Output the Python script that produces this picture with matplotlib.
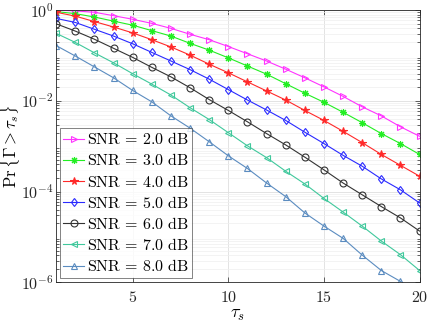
import numpy as np
import matplotlib
matplotlib.use("Agg")
import matplotlib.pyplot as plt
from matplotlib.ticker import LogLocator, NullFormatter, FixedLocator

plt.rcParams['mathtext.fontset'] = 'cm'
plt.rcParams['font.family'] = ['DejaVu Serif']

tau = list(range(1, 21))
snr_labels = ["2.0", "3.0", "4.0", "5.0", "6.0", "7.0", "8.0"]

# log10 of Pr{Gamma > tau_s}
log_snr2 = [0.0, -0.015, -0.045, -0.12, -0.2, -0.29, -0.40, -0.53, -0.65, -0.80,
            -0.96, -1.12, -1.30, -1.49, -1.69, -1.90, -2.13, -2.33, -2.57, -2.78]
log_snr3 = [-0.03, -0.075, -0.15, -0.24, -0.33, -0.45, -0.57, -0.73, -0.88, -1.05,
            -1.23, -1.41, -1.62, -1.83, -2.03, -2.25, -2.48, -2.72, -2.94, -3.18]
log_snr4 = [-0.045, -0.13, -0.25, -0.37, -0.50, -0.65, -0.81, -0.99, -1.19, -1.38,
            -1.58, -1.78, -1.98, -2.21, -2.43, -2.67, -2.92, -3.18, -3.42, -3.66]
log_snr5 = [-0.18, -0.27, -0.42, -0.57, -0.74, -0.93, -1.12, -1.31, -1.52, -1.75,
            -1.98, -2.20, -2.43, -2.69, -2.94, -3.20, -3.44, -3.72, -3.96, -4.25]
log_snr6 = [-0.30, -0.46, -0.64, -0.84, -1.04, -1.26, -1.47, -1.71, -1.97, -2.21,
            -2.46, -2.72, -2.97, -3.24, -3.52, -3.81, -4.07, -4.33, -4.58, -4.87]
log_snr7 = [-0.51, -0.71, -0.94, -1.16, -1.40, -1.63, -1.87, -2.15, -2.41, -2.70,
            -2.99, -3.25, -3.55, -3.83, -4.15, -4.45, -4.76, -5.09, -5.39, -5.74]
log_snr8 = [-0.78, -1.01, -1.25, -1.49, -1.77, -2.02, -2.33, -2.60, -2.90, -3.21,
            -3.49, -3.81, -4.11, -4.47, -4.76, -5.03, -5.40, -5.74, -5.98, -6.30]

series = [log_snr2, log_snr3, log_snr4, log_snr5, log_snr6, log_snr7, log_snr8]
colors = ['#ff33ff', '#22ee22', '#ff2a2a', '#2a2aff', '#333333', '#40c89c', '#5b8cc0']
markers = ['>', (8, 2, 0), '*', 'd', 'o', '<', '^']
fills = ['none', None, None, 'none', 'none', 'none', 'none']
msizes = [5, 5, 5.5, 4.5, 5, 5, 5]

fig = plt.figure(figsize=(4.29, 3.27), dpi=100)
ax = fig.add_axes([0.131, 0.1367, 0.847, 0.832])

for vals, lab, c, m, f, ms in zip(series, snr_labels, colors, markers, fills, msizes):
    y = 10.0 ** np.array(vals)
    kw = dict(color=c, marker=m, markersize=ms, linewidth=0.8, markeredgewidth=0.8,
              label=r'$\mathrm{SNR}\,=\,%s\ \mathrm{dB}$' % lab)
    if f == 'none':
        kw['markerfacecolor'] = 'none'
    ax.plot(tau, y, **kw)

ax.set_yscale('log')
ax.set_xlim(1, 20)
ax.set_ylim(1e-6, 1)
ax.xaxis.set_major_locator(FixedLocator([5, 10, 15, 20]))
ax.set_xticklabels([r'$5$', r'$10$', r'$15$', r'$20$'])
ax.yaxis.set_major_locator(FixedLocator([1e-6, 1e-4, 1e-2, 1]))
ax.set_yticklabels([r'$10^{-6}$', r'$10^{-4}$', r'$10^{-2}$', r'$10^{0}$'])
ax.yaxis.set_minor_locator(LogLocator(base=10, subs=np.arange(2, 10), numticks=20))
ax.yaxis.set_minor_formatter(NullFormatter())

ax.grid(True, which='major', color='#dedede', linewidth=0.6)
ax.grid(True, which='minor', axis='y', color='#efefef', linewidth=0.5)
ax.set_axisbelow(True)
for s in ax.spines.values():
    s.set_color('#262626')
    s.set_linewidth(0.6)
ax.tick_params(which='both', direction='in', top=True, right=True, colors='#262626',
               labelsize=11.5, width=0.5)
ax.tick_params(which='major', length=3.5)
ax.tick_params(which='minor', length=2)
ax.tick_params(axis='x', pad=5)
ax.tick_params(axis='y', pad=2)

ax.set_xlabel(r'$\tau_s$', fontsize=13, labelpad=-1)
ax.set_ylabel(r'$\Pr\{\Gamma > \tau_s\}$', fontsize=12)
ax.yaxis.set_label_coords(-0.093, 0.5)

leg = ax.legend(loc='lower left', fontsize=11.5, frameon=True, fancybox=False,
                borderpad=0.2, labelspacing=0.26, handlelength=1.3,
                handletextpad=0.2, borderaxespad=0.25, edgecolor='#262626')
leg.get_frame().set_linewidth(0.5)

fig.savefig('out.png', dpi=100)
